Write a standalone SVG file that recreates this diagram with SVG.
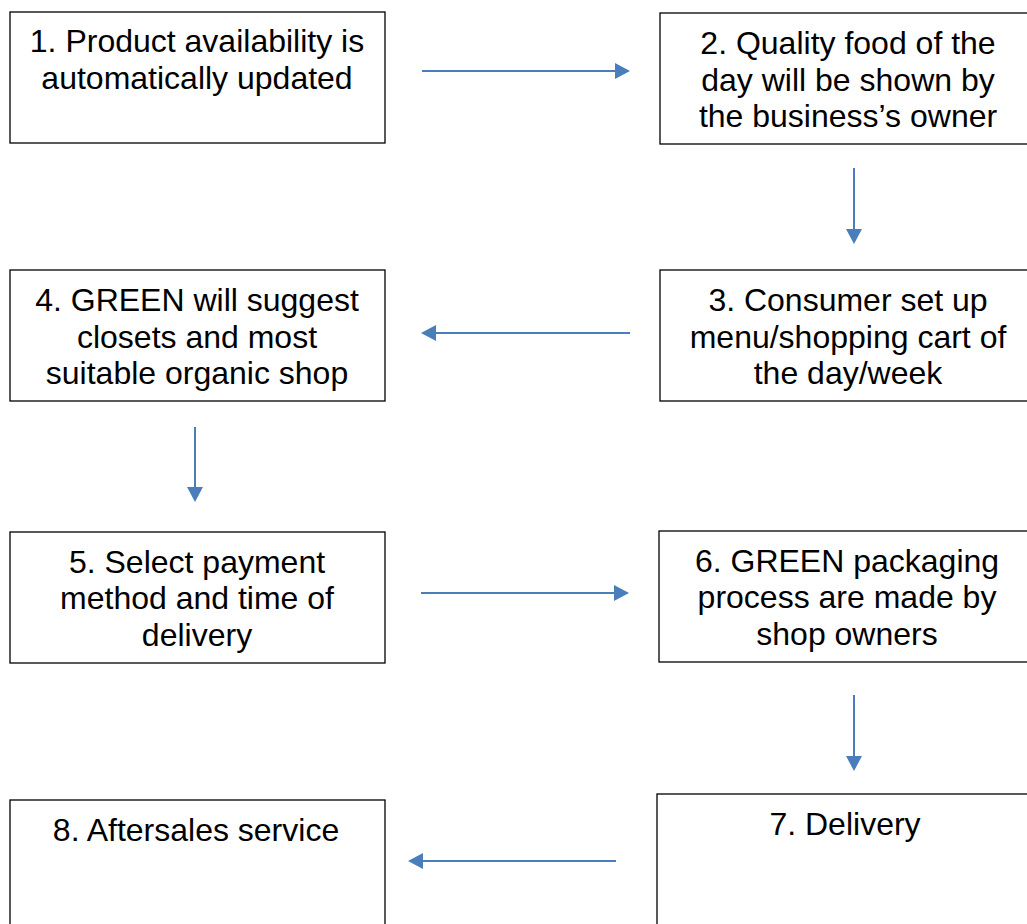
<svg xmlns="http://www.w3.org/2000/svg" width="1027" height="924" viewBox="0 0 1027 924">
<defs>
<style>
.box{fill:#fff;stroke:#000;stroke-width:1.3}
.lbl{font-family:"Liberation Sans",Arial,sans-serif;font-size:32px;fill:#000;text-anchor:middle}
.conn{stroke:#4a7ebb;stroke-width:2;fill:none}
</style>
<marker id="ah" markerUnits="userSpaceOnUse" markerWidth="16" markerHeight="16" refX="0" refY="8" orient="auto">
<path d="M0,0 L15,8 L0,16 Z" fill="#4a7ebb"/>
</marker>
</defs>
<rect width="1027" height="924" fill="#fff"/>
<g id="n1"><rect class="box" x="10" y="12" width="375" height="131"/>
<text class="lbl" x="197" y="52">1. Product availability is</text>
<text class="lbl" x="197" y="89">automatically updated</text></g>
<g id="n2"><rect class="box" x="660" y="13" width="380" height="131"/>
<text class="lbl" x="848" y="54">2. Quality food of the</text>
<text class="lbl" x="848" y="91">day will be shown by</text>
<text class="lbl" x="848" y="127">the business’s owner</text></g>
<g id="n3"><rect class="box" x="660" y="270" width="380" height="131"/>
<text class="lbl" x="848" y="311">3. Consumer set up</text>
<text class="lbl" x="848" y="348">menu/shopping cart of</text>
<text class="lbl" x="848" y="384">the day/week</text></g>
<g id="n4"><rect class="box" x="10" y="270" width="375" height="131"/>
<text class="lbl" x="197" y="311">4. GREEN will suggest</text>
<text class="lbl" x="197" y="348">closets and most</text>
<text class="lbl" x="197" y="384">suitable organic shop</text></g>
<g id="n5"><rect class="box" x="10" y="532" width="375" height="131"/>
<text class="lbl" x="197" y="573">5. Select payment</text>
<text class="lbl" x="197" y="609">method and time of</text>
<text class="lbl" x="197" y="646">delivery</text></g>
<g id="n6"><rect class="box" x="659" y="531" width="380" height="131"/>
<text class="lbl" x="847" y="572">6. GREEN packaging</text>
<text class="lbl" x="847" y="608">process are made by</text>
<text class="lbl" x="847" y="645">shop owners</text></g>
<g id="n7"><rect class="box" x="657" y="794" width="385" height="150"/>
<text class="lbl" x="845" y="835">7. Delivery</text></g>
<g id="n8"><rect class="box" x="10" y="800" width="375" height="150"/>
<text class="lbl" x="196" y="841">8. Aftersales service</text></g>
<g id="connectors">
<line class="conn" x1="422" y1="71" x2="615" y2="71" marker-end="url(#ah)"/>
<line class="conn" x1="854" y1="168" x2="854" y2="229" marker-end="url(#ah)"/>
<line class="conn" x1="630" y1="333" x2="436" y2="333" marker-end="url(#ah)"/>
<line class="conn" x1="195" y1="427" x2="195" y2="487" marker-end="url(#ah)"/>
<line class="conn" x1="421" y1="593" x2="614" y2="593" marker-end="url(#ah)"/>
<line class="conn" x1="854" y1="695" x2="854" y2="756" marker-end="url(#ah)"/>
<line class="conn" x1="616" y1="861" x2="423" y2="861" marker-end="url(#ah)"/>
</g>
</svg>
